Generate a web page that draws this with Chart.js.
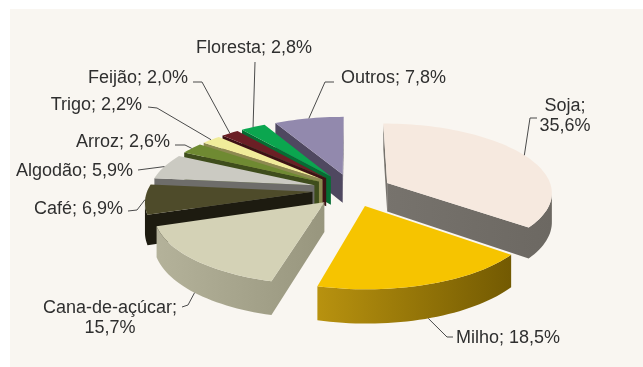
<!DOCTYPE html>
<html>
<head>
<meta charset="utf-8">
<script src="https://cdn.jsdelivr.net/npm/chart.js@4"></script>
<style>
  html, body { margin: 0; background: #fff; }
  #wrap { width: 643px; height: 367px; position: relative; overflow: hidden; }
  #panel { position: absolute; left: 10px; top: 9px; width: 633px; height: 358px; background: #f9f6f1; }
  canvas { position: absolute; left: 0; top: 0; }
</style>
</head>
<body>
<div id="wrap">
  <div id="panel"></div>
  <canvas id="chart" width="643" height="367"></canvas>
</div>
<script>
const categories = ["Soja", "Milho", "Cana-de-açúcar", "Café", "Algodão", "Arroz", "Trigo", "Feijão", "Floresta", "Outros"];
const shares = [35.6, 18.5, 15.7, 6.9, 5.9, 2.6, 2.2, 2.0, 2.8, 7.8];
const topColors = ["#f6e9df", "#f6c400", "#d4d2b6", "#4e4b2a", "#cbcac2", "#6f8a32", "#f0ec9a", "#6b1f25", "#0ba64f", "#9289ad"];
const wallColors = [["#77736d", "#6c6862"], ["#b8920f", "#735a02"], ["#b4b29a", "#98967e"], ["#1d1b10", "#1d1b10"], ["#6e6d6a", "#6e6d6a"], ["#3f4d1c", "#3f4d1c"], ["#8c8a50", "#8c8a50"], ["#3d1114", "#3d1114"], ["#066d33", "#066d33"], ["#4f4860", "#4f4860"]];

// label text lines, anchor and leader elbow points
const labelLines = [["Soja;", "35,6%"], ["Milho; 18,5%"], ["Cana-de-açúcar;", "15,7%"], ["Café; 6,9%"], ["Algodão; 5,9%"], ["Arroz; 2,6%"], ["Trigo; 2,2%"], ["Feijão; 2,0%"], ["Floresta; 2,8%"], ["Outros; 7,8%"]];
const labelAnchors = [[565, 111, "center"], [456, 343, "left"], [110, 313, "center"], [123, 214, "right"], [133, 176, "right"], [170, 147, "right"], [142, 110, "right"], [188, 83, "right"], [254, 53, "center"], [341, 83, "left"]];
const leaderBends = [[[530, 118], [537, 118]], [[447, 337], [453, 337]], [[188, 305], [182, 307]], [[137, 210], [128, 211]], [[138, 170]], [[185, 145], [175, 145]], [[157, 108], [148, 107]], [[202, 82], [193, 82]], [[255, 62]], [[325, 82], [334, 82]]];

const EXPLODE = 0.24;   // slice pull-out, in radii
const TILT = 0.415;     // vertical squash of the pie plane
const PERSP = 0.125;    // front of the pie is drawn larger than the back
const DEPTH = 29;       // slab thickness in px

// pie plane -> screen, unit radius
function project(arc, X, Y) {
  const w = 1 / (1 - PERSP * Y);
  return {
    x: arc.x + arc.outerRadius * X * w,
    y: arc.y + arc.outerRadius * TILT * Y * w,
    w
  };
}

function sliceOutline(arc) {
  const mid = (arc.startAngle + arc.endAngle) / 2;
  const ox = Math.cos(mid) * EXPLODE, oy = Math.sin(mid) * EXPLODE;
  const pts = [project(arc, ox, oy)];
  const steps = Math.max(4, Math.ceil((arc.endAngle - arc.startAngle) * 30));
  for (let i = 0; i <= steps; i++) {
    const a = arc.startAngle + (arc.endAngle - arc.startAngle) * i / steps;
    pts.push(project(arc, ox + Math.cos(a), oy + Math.sin(a)));
  }
  return pts;
}

function fillWall(ctx, run) {
  ctx.beginPath();
  run.forEach((p, i) => i ? ctx.lineTo(p.x, p.y) : ctx.moveTo(p.x, p.y));
  run.slice().reverse().forEach(p => ctx.lineTo(p.x, p.y + DEPTH * p.w));
  ctx.closePath();
  ctx.fill();
}

function drawSlice(ctx, arc, index) {
  const pts = sliceOutline(arc);
  const [light, dark] = wallColors[index];
  const xs = pts.map(p => p.x);
  const grad = ctx.createLinearGradient(Math.min(...xs), 0, Math.max(...xs), 0);
  grad.addColorStop(0, light);
  grad.addColorStop(1, dark);
  ctx.fillStyle = grad;

  // only walls facing the viewer: clockwise outline running right to left
  let run = [];
  for (let i = 0; i < pts.length; i++) {
    const a = pts[i], b = pts[(i + 1) % pts.length];
    if (b.x < a.x) {
      if (!run.length) run.push(a);
      run.push(b);
    } else if (run.length) {
      fillWall(ctx, run);
      run = [];
    }
  }
  if (run.length) fillWall(ctx, run);

  ctx.fillStyle = arc.options.backgroundColor;
  ctx.beginPath();
  pts.forEach((p, i) => i ? ctx.lineTo(p.x, p.y) : ctx.moveTo(p.x, p.y));
  ctx.closePath();
  ctx.fill();
}

const slab3d = {
  id: "slab3d",
  beforeDatasetDraw(chart) {
    const ctx = chart.ctx;
    const arcs = chart.getDatasetMeta(0).data;
    const order = arcs.map((_, i) => i).sort((a, b) => {
      const mid = k => (arcs[k].startAngle + arcs[k].endAngle) / 2;
      return Math.sin(mid(a)) - Math.sin(mid(b));
    });
    ctx.save();
    order.forEach(i => drawSlice(ctx, arcs[i], i));
    ctx.restore();
    return false;
  },
  afterDatasetsDraw(chart) {
    const ctx = chart.ctx;
    const arcs = chart.getDatasetMeta(0).data;
    ctx.save();
    arcs.forEach((arc, i) => {
      const mid = (arc.startAngle + arc.endAngle) / 2;
      const X = Math.cos(mid) * (1 + EXPLODE), Y = Math.sin(mid) * (1 + EXPLODE);
      const start = project(arc, X, Y);
      // front slices: the leader meets the bottom of the wall
      const sy = Y > 0.5 ? start.y + DEPTH * start.w : start.y;
      ctx.strokeStyle = "#4a4a4a";
      ctx.lineWidth = 1;
      ctx.beginPath();
      ctx.moveTo(start.x, sy);
      leaderBends[i].forEach(p => ctx.lineTo(p[0], p[1]));
      ctx.stroke();

      const [x, y, align] = labelAnchors[i];
      ctx.fillStyle = "#2f2f2f";
      ctx.font = "18px 'Liberation Sans'";
      ctx.textAlign = align;
      ctx.textBaseline = "alphabetic";
      labelLines[i].forEach((line, n) => ctx.fillText(line, x, y + n * 19.5));
    });
    ctx.restore();
  }
};

new Chart(document.getElementById("chart"), {
  type: "pie",
  data: {
    labels: categories,
    datasets: [{ data: shares, backgroundColor: topColors, borderWidth: 0 }]
  },
  options: {
    responsive: false,
    animation: false,
    layout: { padding: { left: 187, right: 126, top: 25, bottom: 12 } },
    plugins: { legend: { display: false }, tooltip: { enabled: false } }
  },
  plugins: [slab3d]
});
</script>
</body>
</html>
